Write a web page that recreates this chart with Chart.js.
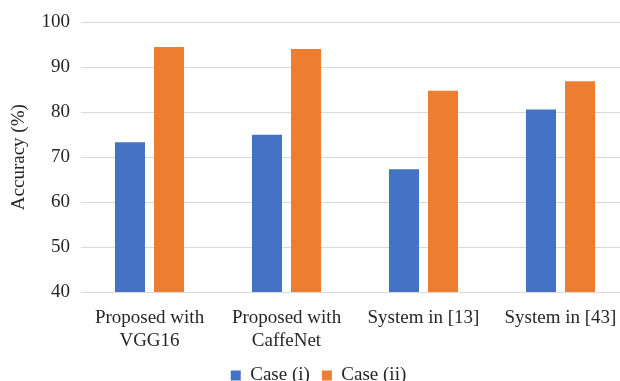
<!DOCTYPE html>
<html>
<head>
<meta charset="utf-8">
<script src="https://cdn.jsdelivr.net/npm/chart.js@4.4.1/dist/chart.umd.min.js"></script>
<style>
  html, body { margin: 0; padding: 0; background: #fff; overflow: hidden; }
  #wrap { width: 620px; height: 381px; overflow: hidden; position: relative; }
  canvas { display: block; }
</style>
</head>
<body>
<div id="wrap"><canvas id="c" width="640" height="395"></canvas></div>
<script>
// Accuracy comparison of the proposed models against prior systems
const categories = [["Proposed with", "VGG16"], ["Proposed with", "CaffeNet"], "System in [13]", "System in [43]"];
const caseI = [73.3, 75.0, 67.3, 80.6];
const caseII = [94.5, 94.1, 84.8, 86.9];
const seriesNames = ["Case (i)", "Case (ii)"];
const yTicks = { min: 40, max: 100, step: 10 };

const serif = "'Liberation Serif', 'Times New Roman', serif";
const textColor = "#262626";

new Chart(document.getElementById("c"), {
  type: "bar",
  data: {
    labels: categories,
    datasets: [
      { label: seriesNames[0], data: caseI, backgroundColor: "#4472C4", categoryPercentage: 0.57, barPercentage: 0.77 },
      { label: seriesNames[1], data: caseII, backgroundColor: "#ED7D31", categoryPercentage: 0.57, barPercentage: 0.77 }
    ]
  },
  options: {
    responsive: false,
    animation: false,
    layout: { padding: { left: 8, right: 11, top: 22, bottom: 0 } },
    plugins: {
      legend: {
        position: "bottom",
        labels: {
          boxWidth: 10,
          boxHeight: 10,
          padding: 12,
          color: textColor,
          font: { family: serif, size: 19 }
        }
      },
      tooltip: { enabled: false }
    },
    scales: {
      x: {
        grid: { display: false, drawTicks: false },
        border: { display: false },
        ticks: {
          color: textColor,
          padding: 15,
          maxRotation: 0,
          autoSkip: false,
          font: { family: serif, size: 19 }
        },
        afterFit: (s) => { s.height = 62; }
      },
      y: {
        min: yTicks.min,
        max: yTicks.max,
        grid: { color: "#d9d9d9", lineWidth: 1, drawTicks: false },
        border: { display: false },
        ticks: {
          stepSize: yTicks.step,
          color: textColor,
          padding: 11,
          font: { family: serif, size: 19 }
        },
        title: {
          display: true,
          text: "Accuracy (%)",
          color: textColor,
          padding: { top: 0, bottom: 0 },
          font: { family: serif, size: 19 }
        },
        afterFit: (s) => { s.width = 73; }
      }
    }
  }
});
</script>
</body>
</html>
